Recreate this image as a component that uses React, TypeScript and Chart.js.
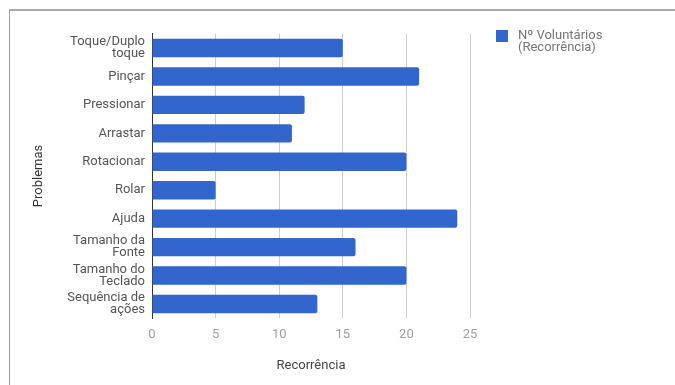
import React, { useEffect, useRef } from "react";
import { Chart, registerables } from "chart.js";

Chart.register(...registerables);

const categories: (string | string[])[] = [
  ["Toque/Duplo", "toque"],
  "Pinçar",
  "Pressionar",
  "Arrastar",
  "Rotacionar",
  "Rolar",
  "Ajuda",
  ["Tamanho da", "Fonte"],
  ["Tamanho do", "Teclado"],
  ["Sequência de", "ações"],
];
const values: number[] = [15, 21, 12, 11, 20, 5, 24, 16, 20, 13];
const seriesName = "Nº Voluntários (Recorrência)";
const legendLines = ["Nº Voluntários", "(Recorrência)"];
const xTicks = [0, 5, 10, 15, 20, 25];
const xTitle = "Recorrência";
const yTitle = "Problemas";

const FONT = "Roboto, 'Noto Sans', Arial, sans-serif";
const BAR = "#3366cc";

const legendPlugin = {
  id: "sideLegend",
  afterDraw(chart: any) {
    const ctx = chart.ctx;
    const ds = chart.data.datasets[0];
    ctx.save();
    ctx.fillStyle = ds.backgroundColor;
    ctx.fillRect(496, 30, 12, 12);
    ctx.fillStyle = "#757575";
    ctx.font = `13px ${FONT}`;
    ctx.textBaseline = "middle";
    ctx.textAlign = "left";
    legendLines.forEach((l, i) => ctx.fillText(l, 518, 36 + i * 12));
    ctx.restore();
  },
};

export default function App() {
  const ref = useRef<HTMLCanvasElement>(null);
  useEffect(() => {
    if (!ref.current) return;
    const chart = new Chart(ref.current, {
      type: "bar",
      data: {
        labels: categories,
        datasets: [
          {
            label: seriesName,
            data: values,
            backgroundColor: BAR,
            borderRadius: 2,
            borderSkipped: "start",
            categoryPercentage: 1,
            barPercentage: 0.645,
          },
        ],
      },
      plugins: [legendPlugin],
      options: {
        indexAxis: "y",
        animation: false,
        responsive: false,
        maintainAspectRatio: false,
        layout: { padding: { left: 27, right: 205, top: 33.8, bottom: 0 } },
        plugins: {
          legend: { display: false },
          tooltip: { enabled: false },
        },
        scales: {
          x: {
            type: "linear",
            min: 0,
            max: 25,
            afterBuildTicks: (scale: any) => {
              scale.ticks = xTicks.map((v) => ({ value: v }));
            },
            afterFit: (scale: any) => {
              scale.height = 385 - 318.2;
            },
            grid: { color: "#cccccc", drawTicks: false },
            border: { display: false },
            ticks: {
              color: "#9e9e9e",
              padding: 9,
              font: { family: FONT, size: 13 },
            },
            title: {
              display: true,
              text: xTitle,
              color: "#444444",
              font: { family: FONT, size: 13 },
              padding: { top: 4, bottom: 11 },
            },
          },
          y: {
            type: "category",
            afterFit: (scale: any) => {
              scale.width = 152 - 27;
            },
            grid: { display: false, drawTicks: false },
            border: { display: true, color: "#333333", width: 1 },
            ticks: {
              color: "#555555",
              padding: 7,
              font: { family: FONT, size: 13, lineHeight: 0.92 },
            },
            title: {
              display: true,
              text: yTitle,
              color: "#333333",
              font: { family: FONT, size: 13 },
              padding: { top: 4, bottom: 4 },
            },
          },
        },
      },
    } as any);
    return () => chart.destroy();
  }, []);
  return (
    <div style={{ position: "fixed", left: 0, top: 0, width: 675, height: 385, background: "#fff" }}>
      <div
        style={{
          position: "absolute",
          left: 9,
          top: 9,
          width: 675 - 9,
          height: 385 - 9,
          borderLeft: "1px solid #9a9a9a",
          borderTop: "2px solid #a8a8a8",
          boxSizing: "border-box",
        }}
      />
      <canvas ref={ref} width={675} height={385} style={{ position: "absolute", left: 0, top: 0 }} />
    </div>
  );
}
